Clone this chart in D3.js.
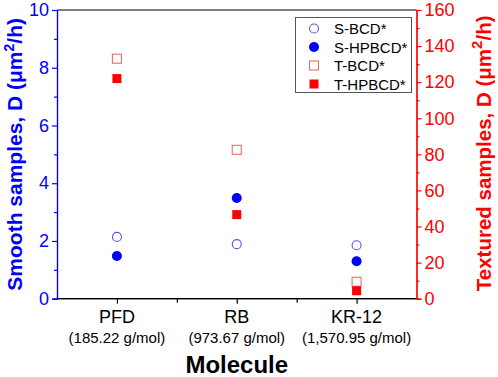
<!DOCTYPE html>
<html><head><meta charset="utf-8">
<script src="https://cdn.jsdelivr.net/npm/d3@7"></script>
<style>body{margin:0;background:#fff}svg{display:block;font-family:"Liberation Sans",Arial,sans-serif}</style>
</head><body><svg id="c" width="498" height="377"></svg>
<script>
const categories = ["PFD", "RB", "KR-12"];
const molarMass = ["(185.22 g/mol)", "(973.67 g/mol)", "(1,570.95 g/mol)"];
const sBCD = [2.14, 1.89, 1.85];
const sHPBCD = [1.48, 3.49, 1.30];
const tBCD = [133, 82.5, 9.4];
const tHPBCD = [122, 46.6, 4.4];
const leftTicks = [0, 2, 4, 6, 8, 10];
const rightTicks = [0, 20, 40, 60, 80, 100, 120, 140, 160];
const seriesNames = ["S-BCD*", "S-HPBCD*", "T-BCD*", "T-HPBCD*"];

const svg = d3.select("#c");
const L = 57, R = 416.5, T = 10, B = 298.7;
const x = d3.scaleLinear().domain([0.5, 3.5]).range([L, R]);
const yL = d3.scaleLinear().domain([0, 10]).range([B, T]);
const yR = d3.scaleLinear().domain([0, 160]).range([B, T]);
const BLUE = "#0000ff", RED = "#ff0000";

// top border
svg.append("line").attr("x1", L).attr("x2", R).attr("y1", T).attr("y2", T).attr("stroke", "#000").attr("stroke-width", 1.2);

// bottom axis
const gx = svg.append("g").attr("transform", `translate(0,${B})`);
gx.call(d3.axisBottom(x).tickValues([1.5, 2.5]).tickSize(4).tickFormat(""));
gx.call(g => g.append("g").call(d3.axisBottom(x).tickValues([1, 2, 3]).tickSize(5).tickFormat("")));
gx.selectAll("path,line").attr("stroke", "#000").attr("stroke-width", 1.2);
gx.selectAll("path").attr("d", `M${L},0H${R}`);
categories.forEach((c, i) => {
  svg.append("text").attr("x", x(i + 1)).attr("y", 323).attr("text-anchor", "middle")
    .attr("font-size", 18).attr("fill", "#000").text(c);
  svg.append("text").attr("x", x(i + 1)).attr("y", 343).attr("text-anchor", "middle")
    .attr("font-size", 15).attr("fill", "#000").text(molarMass[i]);
});
svg.append("text").attr("x", x(2)).attr("y", 373).attr("text-anchor", "middle")
  .attr("font-size", 24).attr("font-weight", "bold").attr("fill", "#000").text("Molecule");

// left axis
const gl = svg.append("g").attr("transform", `translate(${L},0)`);
gl.append("g").call(d3.axisLeft(yL).tickValues([1, 3, 5, 7, 9]).tickSize(3).tickFormat(""));
gl.append("g").call(d3.axisLeft(yL).tickValues(leftTicks).tickSize(5).tickPadding(3).tickFormat(d3.format("d")));
gl.selectAll("path,line").attr("stroke", BLUE).attr("stroke-width", 1.2);
gl.selectAll("text").attr("fill", BLUE).attr("font-size", 18).attr("font-family", "Liberation Sans, Arial, sans-serif");

// right axis
const gr = svg.append("g").attr("transform", `translate(${R},0)`);
gr.append("g").call(d3.axisRight(yR).tickValues(d3.range(10, 160, 20)).tickSize(3).tickFormat(""));
gr.append("g").call(d3.axisRight(yR).tickValues(rightTicks).tickSize(5).tickPadding(3).tickFormat(d3.format("d")));
gr.selectAll("path,line").attr("stroke", RED).attr("stroke-width", 1.2);
gr.selectAll("text").attr("fill", RED).attr("font-size", 18).attr("font-family", "Liberation Sans, Arial, sans-serif");

// axis titles
const lt = svg.append("text").attr("transform", `translate(22,${(T + B) / 2}) rotate(-90)`)
  .attr("text-anchor", "middle").attr("font-size", 21).attr("font-weight", "bold").attr("fill", BLUE);
lt.append("tspan").text("Smooth samples, D (\u03bcm");
lt.append("tspan").attr("font-size", 14).attr("dy", -8).text("2");
lt.append("tspan").attr("dy", 8).text("/h)");

const rt = svg.append("text").attr("transform", `translate(491,${(T + B) / 2 - 1}) rotate(-90)`)
  .attr("text-anchor", "middle").attr("font-size", 20.5).attr("font-weight", "bold").attr("fill", RED);
rt.append("tspan").text("Textured samples, D (\u03bcm");
rt.append("tspan").attr("font-size", 15).attr("dy", -9).text("2");
rt.append("tspan").attr("dy", 9).text("/h)");

// markers
const plot = svg.append("g");
const idx = [0, 1, 2];
const drawCircle = (g, cx, cy, filled) => g.append("circle").attr("cx", cx).attr("cy", cy).attr("r", filled ? 5 : 4.5)
  .attr("fill", filled ? BLUE : "#fff").attr("stroke", filled ? BLUE : "#5555ee").attr("stroke-width", filled ? 0 : 1.1);
const drawSquare = (g, cx, cy, filled) => g.append("rect").attr("x", cx - 4.5).attr("y", cy - 4.5).attr("width", 9).attr("height", 9)
  .attr("fill", filled ? RED : "#fff").attr("stroke", filled ? RED : "#f06a6a").attr("stroke-width", filled ? 0 : 1.1);
idx.forEach(i => {
  drawSquare(plot, x(i + 1), yR(tBCD[i]), false);
  drawSquare(plot, x(i + 1), yR(tHPBCD[i]), true);
  drawCircle(plot, x(i + 1), yL(sBCD[i]), false);
  drawCircle(plot, x(i + 1), yL(sHPBCD[i]), true);
});

// legend
const lg = svg.append("g");
lg.append("rect").attr("x", 295.5).attr("y", 17.5).attr("width", 116).attr("height", 75)
  .attr("fill", "#fff").attr("stroke", "#555").attr("stroke-width", 1);
const rowY = [28.5, 47, 65.5, 84];
drawCircle(lg, 314, rowY[0], false);
drawCircle(lg, 314, rowY[1], true);
drawSquare(lg, 314, rowY[2], false);
drawSquare(lg, 314, rowY[3], true);
seriesNames.forEach((n, i) => {
  lg.append("text").attr("x", 334).attr("y", rowY[i] + 5.5).attr("font-size", 15).attr("fill", "#000").text(n);
});
</script></body></html>
